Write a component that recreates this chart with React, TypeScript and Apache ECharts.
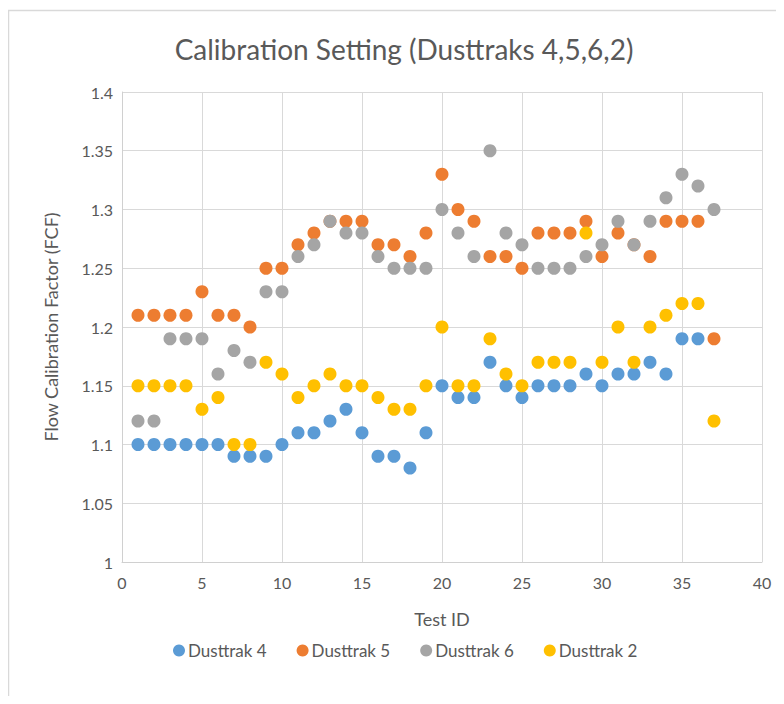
import React, { useEffect, useRef } from "react";
import * as echarts from "echarts";

const testIds = [1,2,3,4,5,6,7,8,9,10,11,12,13,14,15,16,17,18,19,20,21,22,23,24,25,26,27,28,29,30,31,32,33,34,35,36,37];
const dusttrak4 = [1.10,1.10,1.10,1.10,1.10,1.10,1.09,1.09,1.09,1.10,1.11,1.11,1.12,1.13,1.11,1.09,1.09,1.08,1.11,1.15,1.14,1.14,1.17,1.15,1.14,1.15,1.15,1.15,1.16,1.15,1.16,1.16,1.17,1.16,1.19,1.19,null];
const dusttrak5 = [1.21,1.21,1.21,1.21,1.23,1.21,1.21,1.20,1.25,1.25,1.27,1.28,1.29,1.29,1.29,1.27,1.27,1.26,1.28,1.33,1.30,1.29,1.26,1.26,1.25,1.28,1.28,1.28,1.29,1.26,1.28,1.27,1.26,1.29,1.29,1.29,1.19];
const dusttrak6 = [1.12,1.12,1.19,1.19,1.19,1.16,1.18,1.17,1.23,1.23,1.26,1.27,1.29,1.28,1.28,1.26,1.25,1.25,1.25,1.30,1.28,1.26,1.35,1.28,1.27,1.25,1.25,1.25,1.26,1.27,1.29,1.27,1.29,1.31,1.33,1.32,1.30];
const dusttrak2 = [1.15,1.15,1.15,1.15,1.13,1.14,1.10,1.10,1.17,1.16,1.14,1.15,1.16,1.15,1.15,1.14,1.13,1.13,1.15,1.20,1.15,1.15,1.19,1.16,1.15,1.17,1.17,1.17,1.28,1.17,1.20,1.17,1.20,1.21,1.22,1.22,1.12];

const seriesNames = ["Dusttrak 4", "Dusttrak 5", "Dusttrak 6", "Dusttrak 2"];
const seriesValues = [dusttrak4, dusttrak5, dusttrak6, dusttrak2];
const colors = ["#5b9bd5", "#ed7d31", "#a5a5a5", "#ffc000"];

const FONT = "Lato";
const TXT = "#595959";

export default function App() {
  const ref = useRef<HTMLDivElement>(null);
  useEffect(() => {
    if (!ref.current) return;
    const chart = echarts.init(ref.current, null, { renderer: "svg" });
    chart.setOption({
      animation: false,
      backgroundColor: "#ffffff",
      textStyle: { fontFamily: FONT },
      graphic: [
        {
          type: "rect",
          shape: { x: 8.5, y: 10.5, width: 800, height: 720 },
          style: { fill: "none", stroke: "#d9d9d9", lineWidth: 1.5 },
          silent: true,
        },
      ],
      title: {
        text: "Calibration Setting (Dusttraks 4,5,6,2)",
        left: 399,
        textAlign: "center",
        top: 30,
        textStyle: { fontFamily: FONT, fontSize: 28, fontWeight: "normal", color: TXT },
      },
      legend: {
        bottom: 40,
        left: 168,
        itemGap: 30,
        itemWidth: 12,
        itemHeight: 12,
        icon: "circle",
        textStyle: { fontFamily: FONT, fontSize: 17, color: TXT, padding: [0, 0, 0, -2] },
        data: seriesNames,
      },
      grid: { left: 122, right: 22, top: 92, bottom: 142, containLabel: false },
      xAxis: {
        type: "value",
        min: 0,
        max: 40,
        interval: 5,
        name: "Test ID",
        nameLocation: "middle",
        nameGap: 48,
        nameTextStyle: { fontFamily: FONT, fontSize: 18, color: TXT },
        axisLine: { show: true, lineStyle: { color: "#d0d0d0", width: 1 } },
        axisTick: { show: false },
        axisLabel: { fontFamily: FONT, fontSize: 16, color: TXT, margin: 12 },
        splitLine: { show: true, lineStyle: { color: "#d9d9d9", width: 1 } },
      },
      yAxis: {
        type: "value",
        min: 1,
        max: 1.4,
        interval: 0.05,
        name: "Flow Calibration Factor (FCF)",
        nameLocation: "middle",
        nameGap: 62,
        nameTextStyle: { fontFamily: FONT, fontSize: 18, color: TXT },
        axisLine: { show: true, lineStyle: { color: "#d0d0d0", width: 1 } },
        axisTick: { show: false },
        axisLabel: {
          fontFamily: FONT,
          fontSize: 16,
          color: TXT,
          margin: 9,
          formatter: (v: number) => String(parseFloat(v.toFixed(2))),
        },
        splitLine: { show: true, lineStyle: { color: "#d9d9d9", width: 1 } },
      },
      series: seriesNames.map((name, i) => ({
        name,
        type: "scatter",
        symbol: "circle",
        symbolSize: 13,
        itemStyle: { color: colors[i], opacity: 1 },
        data: testIds
          .map((id, j) => [id, seriesValues[i][j]])
          .filter((p) => p[1] !== null),
      })),
    });
    return () => chart.dispose();
  }, []);
  return <div ref={ref} style={{ width: 784, height: 704, margin: -8 }} />;
}
